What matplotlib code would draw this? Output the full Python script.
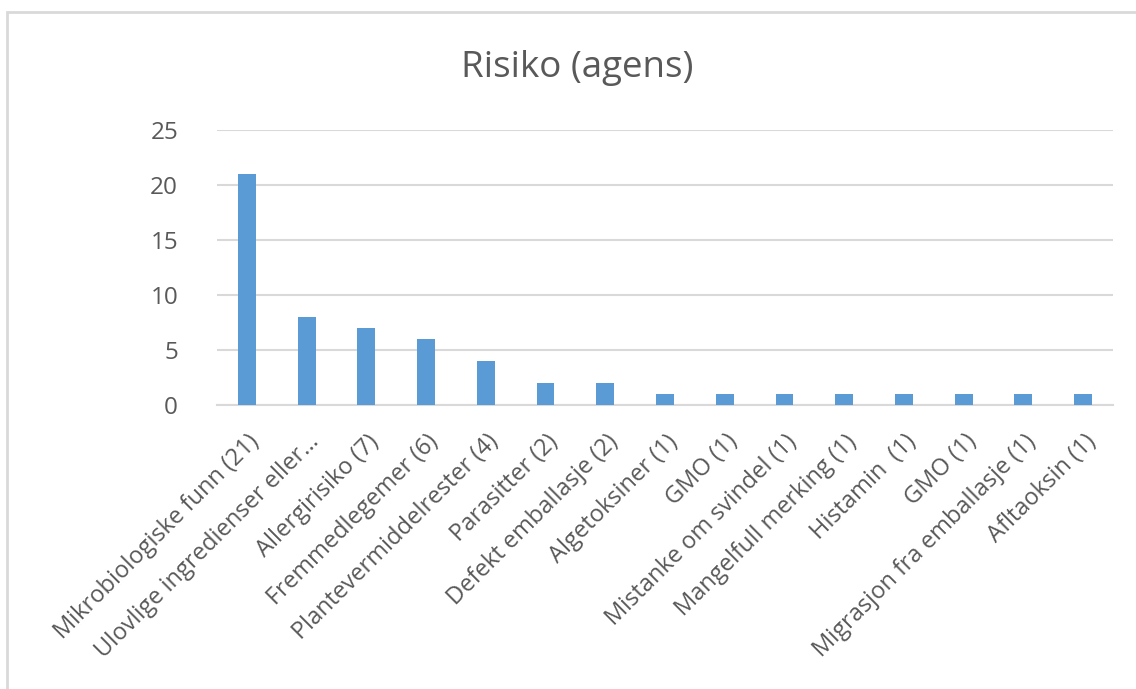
import matplotlib
matplotlib.use("Agg")
import matplotlib.pyplot as plt
from matplotlib.patches import Rectangle
from matplotlib.transforms import ScaledTranslation

categories = [
    "Mikrobiologiske funn (21)",
    "Ulovlige ingredienser eller…",
    "Allergirisiko (7)",
    "Fremmedlegemer (6)",
    "Plantevermiddelrester (4)",
    "Parasitter (2)",
    "Defekt emballasje (2)",
    "Algetoksiner (1)",
    "GMO (1)",
    "Mistanke om svindel (1)",
    "Mangelfull merking (1)",
    "Histamin  (1)",
    "GMO (1)",
    "Migrasjon fra emballasje (1)",
    "Afltaoksin (1)",
]
values = [21, 8, 7, 6, 4, 2, 2, 1, 1, 1, 1, 1, 1, 1, 1]
yticks = [0, 5, 10, 15, 20, 25]

plt.rcParams['font.family'] = ['Open Sans', 'DejaVu Sans']
W, H = 1136, 689
fig = plt.figure(figsize=(W/100, H/100), dpi=100)
fig.patch.set_facecolor('white')

# chart border
fig.add_artist(Rectangle((7/W, -0.01), 1.05, 1 - 12/H + 0.01, transform=fig.transFigure,
                         fill=False, edgecolor='#d9d9d9', linewidth=2))

ax = fig.add_axes([217/W, 1 - 405/H, (1113-217)/W, (405-130)/H])
x = range(len(categories))
ax.bar(x, values, width=0.3, color='#5b9bd5', zorder=3)
ax.set_xlim(-0.5, len(categories) - 0.5)
ax.set_ylim(0, 25)
ax.set_yticks(yticks)
ax.yaxis.grid(True, color='#d9d9d9', linewidth=1.5, zorder=0)
for s in ['top', 'right', 'left']:
    ax.spines[s].set_visible(False)
ax.spines['bottom'].set_color('#d9d9d9')
ax.spines['bottom'].set_linewidth(1.5)
ax.tick_params(axis='y', length=0, colors='#595959', labelsize=17.5, pad=28)
ax.set_xticks(list(x))
ax.set_xticklabels(categories, rotation=45, ha='right', va='center',
                   rotation_mode='anchor', color='#595959', fontsize=17)
ax.tick_params(axis='x', length=0, pad=24)
off = ScaledTranslation(9/100, 0, fig.dpi_scale_trans)
for lbl in ax.get_xticklabels():
    lbl.set_transform(lbl.get_transform() + off)

fig.text(577/W, 1 - 68/H, "Risiko (agens)", ha='center', va='center',
         fontsize=26.5, color='#595959')

fig.savefig("out.png", dpi=100)
